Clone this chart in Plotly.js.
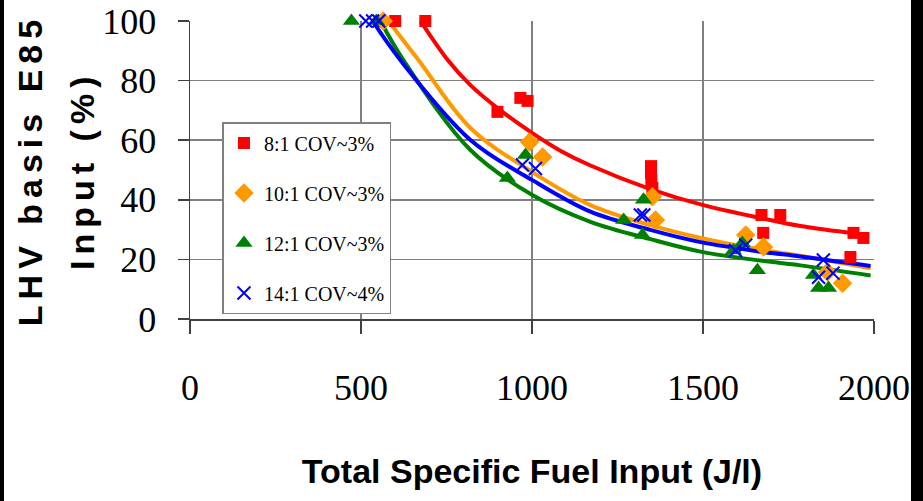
<!DOCTYPE html>
<html>
<head>
<meta charset="utf-8">
<script src="https://cdn.plot.ly/plotly-3.0.1.min.js"></script>
<style>
  html, body { margin: 0; padding: 0; background: #ffffff; }
  #chart { width: 923px; height: 501px; position: relative; }
  .bar-l { position: absolute; left: 0; top: 0; width: 4px; height: 501px; background: #000; z-index: 10; }
  .bar-r { position: absolute; left: 911px; top: 0; width: 12px; height: 501px; background: #000; z-index: 10; }
  .ytitle, .annotation-text { letter-spacing: 6px; }
</style>
</head>
<body>
<div id="chart"></div>
<div class="bar-l"></div>
<div class="bar-r"></div>
<script>
// ---- data ----
const seriesNames = ["8:1 COV~3%", "10:1 COV~3%", "12:1 COV~3%", "14:1 COV~4%"];

const pts8_x  = [600, 688, 899, 966, 987, 1348, 1348, 1349, 1352, 1671, 1726, 1676, 1940, 1969, 1931];
const pts8_y  = [100, 100, 69.5, 74.2, 73.2, 51.3, 49, 46.5, 44, 34.9, 34.9, 28.9, 28.9, 27.2, 20.8];

const pts10_x = [565, 993, 1031, 1352, 1361, 1625, 1677, 1864, 1908];
const pts10_y = [100, 59.4, 54.4, 41, 33.2, 28.2, 24.2, 15.8, 12];

const pts12_x = [472, 545, 928, 981, 1268, 1323, 1326, 1589, 1615, 1659, 1823, 1838, 1867];
const pts12_y = [100, 100, 47.3, 55, 33.2, 28.2, 40, 23, 25.5, 16.4, 14.8, 10.4, 10.4];

const pts14_x = [514, 534, 552, 972, 1010, 1317, 1327, 1595, 1625, 1852, 1838, 1880];
const pts14_y = [100, 100, 100, 51.7, 50.5, 34.9, 34.9, 23, 24.8, 19.8, 14, 15.4];

// trend curves
const fit8_x  = [674, 753, 820, 908, 1001, 1083, 1171, 1346, 1501, 1668, 1785, 1931, 1984];
const fit8_y  = [100, 87, 78.5, 70, 62.4, 56.5, 51.5, 43.6, 38.2, 33.9, 31.2, 28.9, 28.2];

const fit10_x = [580, 668, 820, 1001, 1171, 1346, 1493, 1668, 1785, 1990];
const fit10_y = [100, 86.9, 64.1, 49.3, 38.2, 31.5, 27.2, 23.3, 21.2, 17.0];

const fit12_x = [557, 624, 820, 1001, 1171, 1346, 1493, 1668, 1785, 1990];
const fit12_y = [100, 86.9, 56.7, 41.6, 32.6, 26.8, 22.6, 19.6, 18.0, 14.6];

const fit14_x = [534, 615, 820, 1001, 1171, 1346, 1493, 1668, 1785, 1990];
const fit14_y = [100, 86.9, 60.1, 46.6, 36.0, 29.9, 25.8, 22.6, 21.0, 17.8];

const xTickVals = [0, 500, 1000, 1500, 2000];
const xTickText = ["0", "500", "1000", "1500", "2000"];
const yTickVals = [0, 20, 40, 60, 80, 100];
const yTickText = ["0", "20", "40", "60", "80", "100"];

// ---- styling ----
const RED = "#FF0000", ORANGE = "#FF9900", GREEN = "#008000", BLUE = "#0000FF";

function curve(x, y, color) {
  return { x: x, y: y, type: "scatter", mode: "lines", showlegend: false, hoverinfo: "skip",
           line: { color: color, width: 4, shape: "spline", smoothing: 1 }, cliponaxis: false };
}

const traces = [
  curve(fit8_x, fit8_y, RED),
  curve(fit10_x, fit10_y, ORANGE),
  curve(fit12_x, fit12_y, GREEN),
  curve(fit14_x, fit14_y, BLUE),
  { x: pts8_x, y: pts8_y, name: seriesNames[0], type: "scatter", mode: "markers", legendgroup: "a",
    marker: { symbol: "square", size: 12, color: RED }, cliponaxis: false },
  { x: pts10_x, y: pts10_y, name: seriesNames[1], type: "scatter", mode: "markers", legendgroup: "b",
    marker: { symbol: "diamond", size: 15, color: ORANGE }, cliponaxis: false },
  { x: pts12_x, y: pts12_y, name: seriesNames[2], type: "scatter", mode: "markers", legendgroup: "c",
    marker: { symbol: "triangle-up", size: 15, color: GREEN }, cliponaxis: false },
  { x: pts14_x, y: pts14_y, name: seriesNames[3], type: "scatter", mode: "markers", legendgroup: "d",
    marker: { symbol: "x-thin-open", size: 13, color: BLUE, line: { color: BLUE, width: 2 } }, cliponaxis: false }
];

const serif = "'Liberation Serif', 'Times New Roman', serif";
const sans = "'Liberation Sans', Arial, sans-serif";

const layout = {
  width: 923, height: 501,
  margin: { l: 190, r: 49, t: 21, b: 182 },
  paper_bgcolor: "#ffffff", plot_bgcolor: "#ffffff",
  showlegend: true,
  legend: {
    x: 0.0475, y: 0.661, xanchor: "left", yanchor: "top",
    bgcolor: "#ffffff", bordercolor: "#808080", borderwidth: 1.5,
    font: { family: serif, size: 20, color: "#000" },
    tracegroupgap: 21, traceorder: "grouped"
  },
  xaxis: {
    range: [0, 2000], tickvals: xTickVals, ticktext: xTickText,
    showgrid: true, gridcolor: "#808080", gridwidth: 1.5,
    showline: true, linecolor: "#404040", linewidth: 1.5,
    ticks: "outside", ticklen: 13, tickwidth: 1.5, tickcolor: "#404040",
    ticklabelstandoff: 23,
    tickfont: { family: serif, size: 36, color: "#000" },
    zeroline: false,
    title: { text: "Total Specific Fuel Input (J/l)\u2003", font: { family: sans, size: 34, color: "#000", weight: "bold" }, standoff: 52 }
  },
  yaxis: {
    range: [0, 100], tickvals: yTickVals, ticktext: yTickText,
    showgrid: true, gridcolor: "#808080", gridwidth: 1.5,
    showline: true, linecolor: "#404040", linewidth: 1.5,
    ticks: "outside", ticklen: 11, tickwidth: 1.5, tickcolor: "#404040",
    ticklabelstandoff: 14,
    tickfont: { family: serif, size: 36, color: "#000" },
    zeroline: false,
    title: { text: "LHV basis E85", font: { family: sans, size: 34, color: "#000", weight: "bold" }, standoff: 49 }
  },
  annotations: [{
    text: "Input (%)", xref: "paper", yref: "paper", x: -0.158, y: 0.5,
    xanchor: "center", yanchor: "middle", textangle: -90, showarrow: false,
    font: { family: sans, size: 34, color: "#000", weight: "bold" }
  }]
};

Plotly.newPlot("chart", traces, layout, { displayModeBar: false, staticPlot: true });
</script>
</body>
</html>
